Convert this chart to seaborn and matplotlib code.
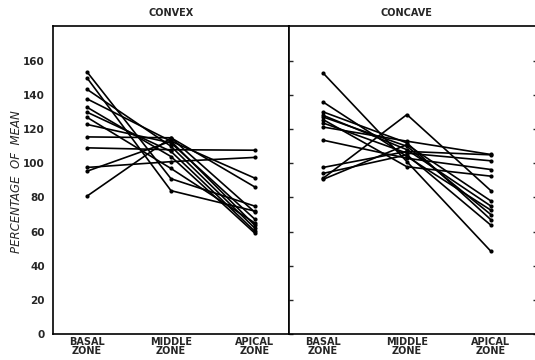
import numpy as np
import pandas as pd
import matplotlib
matplotlib.use("Agg")
from matplotlib import pyplot as plt
import seaborn as sns

zones = ["BASAL\nZONE", "MIDDLE\nZONE", "APICAL\nZONE"]
panels = ["CONVEX", "CONCAVE"]
y_ticks = [0, 20, 40, 60, 80, 100, 120, 140, 160]

# one entry per specimen line: basal / middle / apical percentage of mean
convex_basal = [153.6, 150.1, 143.4, 137.8, 132.9, 130.0, 122.8, 115.5, 109.1, 97.6, 95.4, 80.8, 127.0]
convex_middle = [91.0, 84.0, 110.0, 113.0, 104.0, 107.0, 112.0, 115.0, 108.0, 101.0, 113.0, 115.0, 97.0]
convex_apical = [74.9, 72.0, 61.9, 63.6, 59.0, 60.1, 67.2, 86.1, 107.7, 103.5, 91.3, 71.3, 65.0]

concave_basal = [153.0, 136.0, 130.2, 128.2, 127.2, 125.7, 123.7, 121.3, 113.6, 97.6, 94.1, 91.2, 90.6]
concave_middle = [101.0, 104.0, 112.0, 108.0, 110.0, 98.0, 106.0, 113.0, 103.0, 107.0, 105.0, 128.6, 111.0]
concave_apical = [48.5, 72.6, 67.0, 75.0, 70.0, 92.5, 101.5, 105.2, 96.4, 105.0, 63.8, 84.0, 78.0]


def long_table(basal, middle, apical):
    rows = []
    for i, vals in enumerate(zip(basal, middle, apical)):
        for z, v in enumerate(vals):
            rows.append({"line": i, "pos": z, "pct": v})
    return pd.DataFrame(rows)


sns.set_style("white")
plt.rcParams["font.family"] = ["DejaVu Sans"]

fig = plt.figure(figsize=(5.35, 3.6), dpi=100)
W, H = 535, 360
bottom = 1 - 334 / H
height = (334 - 26) / H
ax_l = fig.add_axes([53 / W, bottom, 236 / W, height])
ax_r = fig.add_axes([289 / W, bottom, 248 / W, height])

data = [
    long_table(convex_basal, convex_middle, convex_apical),
    long_table(concave_basal, concave_middle, concave_apical),
]

for ax, df, title in zip([ax_l, ax_r], data, panels):
    sns.lineplot(data=df, x="pos", y="pct", units="line", estimator=None,
                 color="black", linewidth=1.2, marker="o", markersize=3,
                 markeredgewidth=0, legend=False, ax=ax)
    ax.set_ylim(0, 180.5)
    ax.set_yticks(y_ticks)
    ax.set_xticks(range(len(zones)))
    ax.set_xticklabels(zones, fontsize=7, fontweight="bold", linespacing=0.95)
    ax.set_xlabel("")
    ax.set_ylabel("")
    ax.tick_params(axis="x", direction="in", length=3, width=1, pad=2)
    for s in ax.spines.values():
        s.set_color("black")
        s.set_linewidth(1.2)
    ax.text(1, 1.025, title, transform=ax.get_xaxis_transform(),
            ha="center", va="bottom", fontsize=7, fontweight="bold")

ax_l.set_xlim(-0.405, 2.405)
ax_r.set_xlim(-0.405, 2.55)

ax_l.tick_params(axis="y", direction="out", length=4, width=1, labelsize=7.5, pad=2)
for lab in ax_l.get_yticklabels():
    lab.set_fontweight("bold")

ax_r.spines["right"].set_visible(False)
ax_r.tick_params(axis="y", direction="in", length=3, width=1,
                 left=True, right=True, labelleft=False)

fig.text(17 / W, 1 - 182 / H, "PERCENTAGE  OF  MEAN", rotation=90,
         ha="center", va="center", fontsize=8.5, fontstyle="italic")

fig.savefig("out.png", dpi=100)
